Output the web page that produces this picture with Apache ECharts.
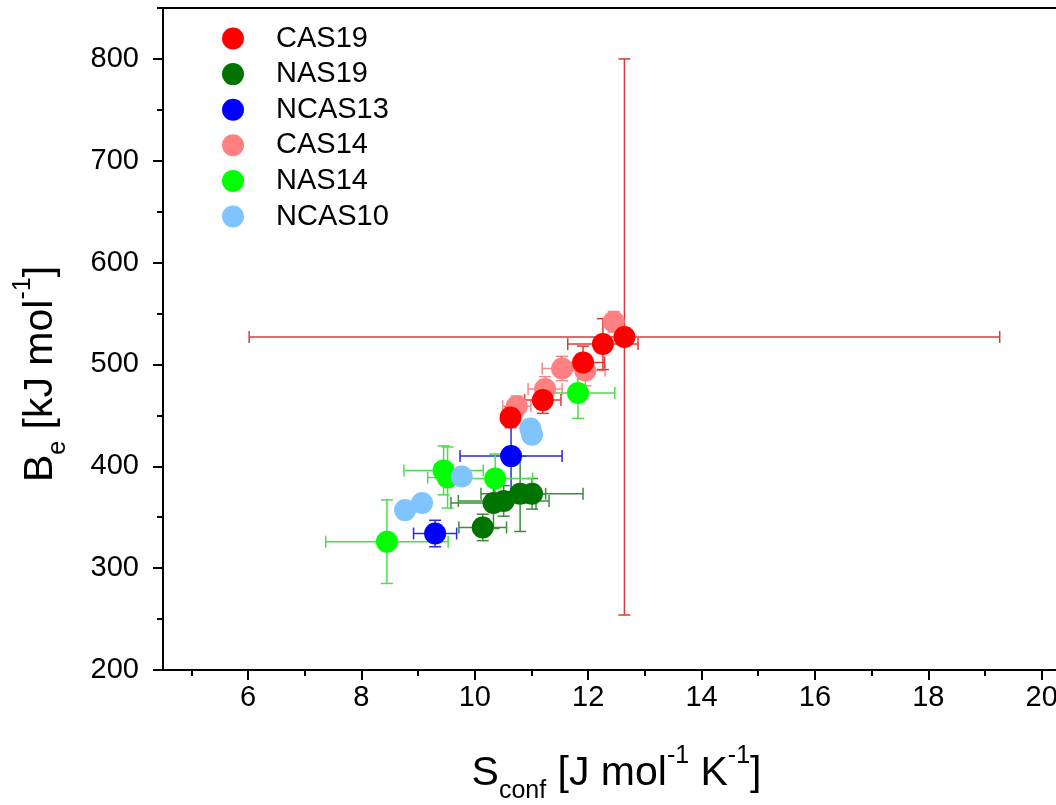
<!DOCTYPE html>
<html>
<head>
<meta charset="utf-8">
<script src="https://cdn.jsdelivr.net/npm/echarts@6/dist/echarts.min.js"></script>
<style>
  html, body { margin: 0; padding: 0; background: #fff; }
  #chart { width: 1056px; height: 805px; }
</style>
</head>
<body>
<div id="chart"></div>
<script>
// Series names in legend order, with marker and error-bar colours
const seriesNames = ['CAS19', 'NAS19', 'NCAS13', 'CAS14', 'NAS14', 'NCAS10'];
const pointColors = ['#ff0000', '#007400', '#0000ff', '#ff8080', '#00ff00', '#80c4ff'];
const barColors = ['#d83a3a', '#3c8c3c', '#2a2ad8', '#f08a8a', '#4ade4a', '#80c4ff'];

// Configurational entropy S_conf [J mol-1 K-1], bond energy B_e [kJ mol-1] and their uncertainties
const cas19S = [10.63, 11.20, 11.91, 12.26, 12.64];
const cas19B = [448, 465, 502, 520, 527];
const cas19SErr = [0.15, 0.32, 0.38, 0.62, 6.62];
const cas19BErr = [10, 13, 16, 25, 273];

const nas19S = [10.14, 10.33, 10.51, 10.80, 11.01];
const nas19B = [340, 364, 366, 373, 373];
const nas19SErr = [0.42, 0.75, 0.80, 0.45, 0.90];
const nas19BErr = [13, 25, 15, 37, 15];

const ncas13S = [9.30, 10.64];
const ncas13B = [334, 410];
const ncas13SErr = [0.38, 0.90];
const ncas13BErr = [13, 35];

const cas14S = [10.74, 11.24, 11.54, 11.95, 12.45];
const cas14B = [459, 476, 496, 494, 542];
const cas14SErr = [0.25, 0.30, 0.35, 0.35, 0.15];
const cas14BErr = [10, 12, 12, 15, 10];

const nas14S = [8.45, 9.45, 9.52, 10.36, 11.82];
const nas14B = [326, 396, 389, 388, 472];
const nas14SErr = [1.08, 0.70, 0.35, 0.66, 0.65];
const nas14BErr = [41, 24, 30, 24, 25];

const ncas10S = [8.77, 9.07, 9.77, 10.98, 11.01];
const ncas10B = [357, 364, 390, 437, 431];
const ncas10SErr = [0, 0, 0, 0, 0];
const ncas10BErr = [0, 0, 0, 0, 0];

// Axis ticks and labels
const xMajorTicks = [6, 8, 10, 12, 14, 16, 18, 20];
const xMinorTicks = [5, 7, 9, 11, 13, 15, 17, 19];
const yMajorTicks = [200, 300, 400, 500, 600, 700, 800];
const yMinorTicks = [250, 350, 450, 550, 650, 750, 850];

const seriesData = {
  CAS19: [cas19S, cas19B, cas19SErr, cas19BErr],
  NAS19: [nas19S, nas19B, nas19SErr, nas19BErr],
  NCAS13: [ncas13S, ncas13B, ncas13SErr, ncas13BErr],
  CAS14: [cas14S, cas14B, cas14SErr, cas14BErr],
  NAS14: [nas14S, nas14B, nas14SErr, nas14BErr],
  NCAS10: [ncas10S, ncas10B, ncas10SErr, ncas10BErr]
};

// Stacking order: light red behind red, later sets on top
const drawOrder = ['CAS14', 'CAS19', 'NAS19', 'NCAS13', 'NAS14', 'NCAS10'];

const FONT = '"Liberation Sans", Arial, sans-serif';
const CAP = 6;

function rowsOf(name) {
  const [s, b, se, be] = seriesData[name];
  return s.map((v, i) => [v, b[i], se[i], be[i]]);
}

function renderErrorBars(params, api) {
  const x = api.value(0), y = api.value(1);
  const dx = api.value(2), dy = api.value(3);
  const stroke = api.visual('color');
  const style = { stroke: stroke, lineWidth: 1.5 };
  const children = [];
  if (dx > 0) {
    const l = api.coord([x - dx, y]);
    const r = api.coord([x + dx, y]);
    children.push({ type: 'line', shape: { x1: l[0], y1: l[1], x2: r[0], y2: r[1] }, style: style });
    children.push({ type: 'line', shape: { x1: l[0], y1: l[1] - CAP, x2: l[0], y2: l[1] + CAP }, style: style });
    children.push({ type: 'line', shape: { x1: r[0], y1: r[1] - CAP, x2: r[0], y2: r[1] + CAP }, style: style });
  }
  if (dy > 0) {
    const t = api.coord([x, y + dy]);
    const b = api.coord([x, y - dy]);
    children.push({ type: 'line', shape: { x1: t[0], y1: t[1], x2: b[0], y2: b[1] }, style: style });
    children.push({ type: 'line', shape: { x1: t[0] - CAP, y1: t[1], x2: t[0] + CAP, y2: t[1] }, style: style });
    children.push({ type: 'line', shape: { x1: b[0] - CAP, y1: b[1], x2: b[0] + CAP, y2: b[1] }, style: style });
  }
  return { type: 'group', children: children };
}

const series = [];
drawOrder.forEach(name => {
  const idx = seriesNames.indexOf(name);
  const rows = rowsOf(name);
  series.push({
    type: 'custom',
    name: name + ' error',
    renderItem: renderErrorBars,
    data: rows,
    encode: { x: 0, y: 1 },
    itemStyle: { color: barColors[idx] },
    silent: true,
    clip: false
  });
  series.push({
    type: 'scatter',
    name: name,
    data: rows.map(r => [r[0], r[1]]),
    symbol: 'circle',
    symbolSize: 22,
    itemStyle: { color: pointColors[idx], opacity: 1, borderWidth: 0 },
    emphasis: { disabled: true },
    silent: true
  });
});

const axisLineStyle = { color: '#000', width: 2 };
const titleRich = {
  m: { fontSize: 41, lineHeight: 60, color: '#000', fontFamily: FONT },
  sub: { fontSize: 25, lineHeight: 25, verticalAlign: 'bottom', color: '#000', fontFamily: FONT },
  sup: { fontSize: 25, lineHeight: 34, verticalAlign: 'top', color: '#000', fontFamily: FONT }
};

const option = {
  animation: false,
  backgroundColor: '#fff',
  textStyle: { fontFamily: FONT },
  grid: {
    left: 163, top: 8, width: 907, height: 662,
    containLabel: false,
    outerBoundsMode: 'none',
    show: true, borderColor: '#000', borderWidth: 2, backgroundColor: 'transparent'
  },
  legend: {
    data: seriesNames,
    orient: 'vertical',
    left: 217,
    top: 19,
    icon: 'circle',
    itemWidth: 76,
    itemHeight: 22,
    itemGap: 6.6,
    selectedMode: false,
    textStyle: { fontSize: 29, color: '#000', fontFamily: FONT }
  },
  xAxis: [
    {
      type: 'value', min: 4.5, max: 20.5, position: 'bottom',
      name: '{m|S}{sub|conf}{m| [J mol}{sup|-1}{m| K}{sup|-1}{m|]}',
      nameLocation: 'middle', nameGap: 74,
      nameTextStyle: { color: '#000', fontFamily: FONT, rich: titleRich },
      axisLine: { show: true, onZero: false, lineStyle: axisLineStyle },
      axisTick: { show: true, inside: false, length: 10, customValues: xMajorTicks, lineStyle: axisLineStyle },
      axisLabel: { show: true, customValues: xMajorTicks, fontSize: 29, color: '#000', margin: 13, fontFamily: FONT },
      splitLine: { show: false }
    },
    {
      type: 'value', min: 4.5, max: 20.5, position: 'bottom',
      axisLine: { show: false, onZero: false },
      axisTick: { show: true, inside: false, length: 6, customValues: xMinorTicks, lineStyle: axisLineStyle },
      axisLabel: { show: false },
      splitLine: { show: false }
    }
  ],
  yAxis: [
    {
      type: 'value', min: 200, max: 850, position: 'left',
      name: '{m|B}{sub|e}{m| [kJ mol}{sup|-1}{m|]}',
      nameLocation: 'middle', nameGap: 92, nameRotate: 90,
      nameTextStyle: { color: '#000', fontFamily: FONT, rich: titleRich, padding: [0, 70, 0, 0] },
      axisLine: { show: true, onZero: false, lineStyle: axisLineStyle },
      axisTick: { show: true, inside: false, length: 10, customValues: yMajorTicks, lineStyle: axisLineStyle },
      axisLabel: { show: true, customValues: yMajorTicks, fontSize: 29, color: '#000', margin: 24, fontFamily: FONT },
      splitLine: { show: false }
    },
    {
      type: 'value', min: 200, max: 850, position: 'left',
      axisLine: { show: false, onZero: false },
      axisTick: { show: true, inside: false, length: 6, customValues: yMinorTicks, lineStyle: axisLineStyle },
      axisLabel: { show: false },
      splitLine: { show: false }
    }
  ],
  series: series
};

const chart = echarts.init(document.getElementById('chart'), null, { renderer: 'canvas' });
chart.setOption(option);
</script>
</body>
</html>
